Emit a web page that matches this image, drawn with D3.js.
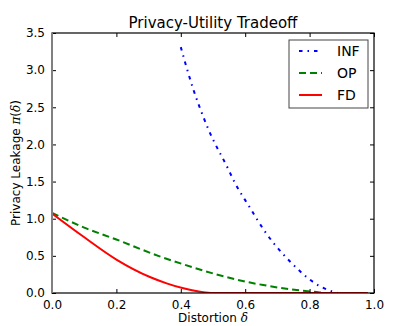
<!DOCTYPE html>
<html>
<head>
<meta charset="utf-8">
<script src="https://cdn.jsdelivr.net/npm/d3@7"></script>
<style>
  body { margin: 0; background: #fff; }
  text { font-family: "DejaVu Sans", sans-serif; fill: #000; }
  .math { font-family: "DejaVu Serif", serif; font-style: italic; }
</style>
</head>
<body>
<div id="plot"></div>
<script>
// Values
const infX  = [0.40, 0.413, 0.439, 0.47, 0.487, 0.546, 0.566, 0.613, 0.661, 0.716, 0.747, 0.78, 0.817, 0.858, 0.879, 0.89, 0.98];
const infY  = [3.31, 3.11, 2.74, 2.37, 2.19, 1.68, 1.50, 1.16, 0.83, 0.53, 0.39, 0.255, 0.13, 0.04, 0.01, 0.0, 0.0];
const opX   = [0.0, 0.1, 0.2, 0.33, 0.408, 0.511, 0.615, 0.656, 0.739, 0.78, 0.822, 0.85, 0.98];
const opY   = [1.08, 0.88, 0.72, 0.50, 0.386, 0.25, 0.14, 0.107, 0.05, 0.03, 0.013, 0.0, 0.0];
const fdX   = [0.0, 0.097, 0.2, 0.304, 0.356, 0.408, 0.46, 0.5, 0.98];
const fdY   = [1.07, 0.76, 0.45, 0.215, 0.13, 0.063, 0.018, 0.0, 0.0];
const xTicks = [0.0, 0.2, 0.4, 0.6, 0.8, 1.0];
const yTicks = [0.0, 0.5, 1.0, 1.5, 2.0, 2.5, 3.0, 3.5];
const seriesNames = ["INF", "OP", "FD"];

const W = 416, H = 326;
const margin = {top: 33, right: 42, bottom: 33, left: 52};
const width = W - margin.left - margin.right;
const height = H - margin.top - margin.bottom;

const svg = d3.select("#plot").append("svg")
    .attr("width", W)
    .attr("height", H);

const g = svg.append("g")
    .attr("transform", `translate(${margin.left},${margin.top})`);

const x = d3.scaleLinear().domain([0, 1]).range([0, width]);
const y = d3.scaleLinear().domain([0, 3.5]).range([height, 0]);

// clip to plot area
svg.append("defs").append("clipPath").attr("id", "clip")
    .append("rect").attr("width", width).attr("height", height);

const series = [
    {name: "INF", xs: infX, ys: infY, color: "#0000ff", dash: "3.5,5,1.5,5"},
    {name: "OP",  xs: opX,  ys: opY,  color: "#008000", dash: "7,4"},
    {name: "FD",  xs: fdX,  ys: fdY,  color: "#ff0000", dash: null}
];

const line = d3.line()
    .x(d => x(d[0]))
    .y(d => y(d[1]))
    .curve(d3.curveMonotoneX);

const lines = g.append("g").attr("clip-path", "url(#clip)");
series.forEach(s => {
    lines.append("path")
        .datum(d3.zip(s.xs, s.ys))
        .attr("d", line)
        .attr("fill", "none")
        .attr("stroke", s.color)
        .attr("stroke-width", 2)
        .attr("stroke-dasharray", s.dash);
});

// axes, ticks pointing inward on all sides
const tickLen = 4;
g.append("g")
    .attr("transform", `translate(0,${height})`)
    .call(d3.axisBottom(x).tickValues(xTicks).tickFormat(d3.format(".1f")).tickSizeInner(-tickLen).tickSizeOuter(0).tickPadding(7))
    .call(a => a.select(".domain").remove());
g.append("g")
    .call(d3.axisTop(x).tickValues(xTicks).tickFormat("").tickSizeInner(-tickLen).tickSizeOuter(0))
    .call(a => a.select(".domain").remove());
g.append("g")
    .call(d3.axisLeft(y).tickValues(yTicks).tickFormat(d3.format(".1f")).tickSizeInner(-tickLen).tickSizeOuter(0).tickPadding(7))
    .call(a => a.select(".domain").remove());
g.append("g")
    .attr("transform", `translate(${width},0)`)
    .call(d3.axisRight(y).tickValues(yTicks).tickFormat("").tickSizeInner(-tickLen).tickSizeOuter(0))
    .call(a => a.select(".domain").remove());

g.selectAll(".tick text")
    .attr("font-size", 12)
    .style("font-family", "'DejaVu Sans', sans-serif");
g.selectAll(".tick line").attr("stroke", "#000");

// spines
g.append("rect")
    .attr("width", width).attr("height", height)
    .attr("fill", "none").attr("stroke", "#000").attr("stroke-width", 1.2);
g.append("line")
    .attr("x1", 0).attr("x2", 0).attr("y1", 0).attr("y2", height)
    .attr("stroke", "#808080").attr("stroke-width", 2);

// title and labels
svg.append("text")
    .attr("x", margin.left + width / 2).attr("y", 28)
    .attr("text-anchor", "middle").attr("font-size", 15)
    .text("Privacy-Utility Tradeoff");

const xl = svg.append("text")
    .attr("x", margin.left + width / 2).attr("y", 322)
    .attr("text-anchor", "middle").attr("font-size", 12);
xl.append("tspan").text("Distortion ");
xl.append("tspan").attr("class", "math").text("δ");

const yl = svg.append("text")
    .attr("transform", `translate(20,${margin.top + height / 2}) rotate(-90)`)
    .attr("text-anchor", "middle").attr("font-size", 12);
yl.append("tspan").text("Privacy Leakage ");
yl.append("tspan").attr("class", "math").text("π");
yl.append("tspan").text("(");
yl.append("tspan").attr("class", "math").text("δ");
yl.append("tspan").text(")");

// legend
const legend = svg.append("g").attr("transform", "translate(289,40)");
legend.append("rect")
    .attr("width", 79).attr("height", 68)
    .attr("fill", "#fff").attr("stroke", "#444").attr("stroke-width", 1);
const legendY = d3.scalePoint().domain(seriesNames).range([11, 55]);
series.forEach(s => {
    const row = legend.append("g").attr("transform", `translate(0,${legendY(s.name)})`);
    row.append("line")
        .attr("x1", 10).attr("x2", 33)
        .attr("stroke", s.color).attr("stroke-width", 2)
        .attr("stroke-dasharray", s.dash);
    row.append("text")
        .attr("x", 48).attr("dy", "0.36em")
        .attr("font-size", 14)
        .text(s.name);
});
</script>
</body>
</html>
